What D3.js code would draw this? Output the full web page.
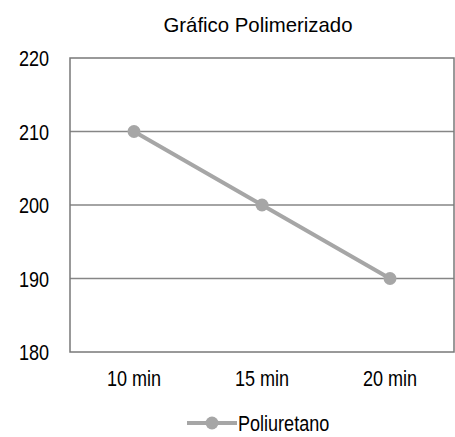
<!DOCTYPE html>
<html>
<head>
<meta charset="utf-8">
<script src="https://cdn.jsdelivr.net/npm/d3@7"></script>
<style>
  body { margin: 0; background: #fff; }
  text { font-family: "Liberation Sans", Arial, sans-serif; fill: #000; }
</style>
</head>
<body>
<svg id="chart" width="455" height="437"></svg>
<script>
//// DATA
const categories = ["10 min", "15 min", "20 min"]
const values = [210, 200, 190]
const yTicks = [180, 190, 200, 210, 220]
const seriesName = "Poliuretano"
const title = "Gráfico Polimerizado"

const lineColor = "rgb(166,166,166)"
const gridColor = "rgb(134,134,134)"
// the original uses a condensed face, squeeze the glyphs to match
const narrow = 0.82

const svg = d3.select("#chart")
const plot = { left: 70, right: 454, top: 58, bottom: 352 }

const x = d3.scaleBand()
  .domain(categories)
  .range([plot.left, plot.right])

const y = d3.scaleLinear()
  .domain([180, 220])
  .range([plot.bottom, plot.top])

// squeeze a text selection horizontally by factor k
function squeeze(sel, k) {
  sel.each(function() {
    const w = this.getComputedTextLength()
    d3.select(this)
      .attr("textLength", w * k)
      .attr("lengthAdjust", "spacingAndGlyphs")
  })
}

// title
svg.append("text")
  .attr("x", 258)
  .attr("y", 32)
  .attr("text-anchor", "middle")
  .style("font-size", "21px")
  .text(title)
  .call(squeeze, 0.97)

// horizontal gridlines
svg.selectAll(".grid")
  .data(yTicks.filter(t => t > 180 && t < 220))
  .join("line")
  .attr("class", "grid")
  .attr("x1", plot.left).attr("x2", plot.right)
  .attr("y1", d => y(d)).attr("y2", d => y(d))
  .attr("stroke", gridColor)
  .attr("stroke-width", 1.3)

// plot border
svg.append("rect")
  .attr("x", plot.left).attr("y", plot.top)
  .attr("width", plot.right - plot.left)
  .attr("height", plot.bottom - plot.top)
  .attr("fill", "none")
  .attr("stroke", "rgb(120,120,120)")
  .attr("stroke-width", 1.5)

// y axis labels
const yAxis = d3.axisLeft(y).tickValues(yTicks).tickSize(0).tickPadding(21)
svg.append("g")
  .attr("transform", `translate(${plot.left},0)`)
  .call(yAxis)
  .call(g => g.select(".domain").remove())
  .selectAll("text")
  .attr("font-family", null).attr("font-size", null)
  .style("font-size", "22px")
  .attr("dy", "0.36em")
  .call(squeeze, narrow)

// x axis labels
const xAxis = d3.axisBottom(x).tickSize(0).tickPadding(18)
svg.append("g")
  .attr("transform", `translate(0,${plot.bottom})`)
  .call(xAxis)
  .call(g => g.select(".domain").remove())
  .selectAll("text")
  .style("font-size", "22px")
  .call(squeeze, narrow)

// series line
const pts = categories.map((c, i) => [x(c) + x.bandwidth() / 2, y(values[i])])
svg.append("path")
  .attr("d", d3.line()(pts))
  .attr("fill", "none")
  .attr("stroke", lineColor)
  .attr("stroke-width", 4)

svg.selectAll(".pt")
  .data(pts)
  .join("circle")
  .attr("class", "pt")
  .attr("cx", d => d[0]).attr("cy", d => d[1])
  .attr("r", 6.5)
  .attr("fill", lineColor)

// legend
const lg = svg.append("g").attr("transform", "translate(187,423)")
lg.append("line")
  .attr("x1", 0).attr("x2", 50)
  .attr("stroke", lineColor).attr("stroke-width", 4)
lg.append("circle").attr("cx", 25).attr("r", 6.5).attr("fill", lineColor)
lg.append("text")
  .attr("x", 51).attr("dy", "0.36em")
  .style("font-size", "22px")
  .text(seriesName)
  .call(squeeze, narrow)
</script>
</body>
</html>
